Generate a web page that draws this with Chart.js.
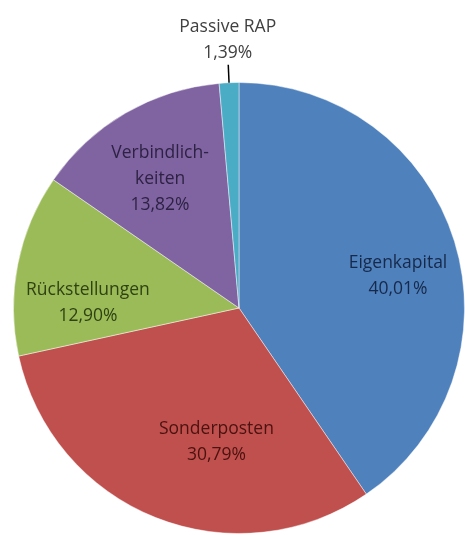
<!DOCTYPE html>
<html>
<head>
<meta charset="utf-8">
<script src="https://cdn.jsdelivr.net/npm/chart.js@4"></script>
<style>
  html, body { margin: 0; padding: 0; background: #fff; }
  #wrap { width: 465px; height: 535px; position: relative; }
</style>
</head>
<body>
<div id="wrap"><canvas id="pie"></canvas></div>
<script>
// Passivseite der Bilanz, Anteile in Prozent
var categories = ["Eigenkapital", "Sonderposten", "Rückstellungen", "Verbindlichkeiten", "Passive RAP"];
var labelLines = [["Eigenkapital"], ["Sonderposten"], ["Rückstellungen"], ["Verbindlich-", "keiten"], ["Passive RAP"]];
var shares = [40.01, 30.79, 12.90, 13.82, 1.39];

var sliceColors = ["#4f81bd", "#c0504d", "#9bbb59", "#8064a2", "#4bacc6"];
var textColors = ["#17294a", "#4a1210", "#2f4212", "#2e2244", "#404040"];
// label centre relative to pie centre, in units of the radius
var labelSpots = [[0.705, -0.14], [-0.10, 0.595], [-0.67, -0.02], [-0.35, -0.57], [-0.05, -1.19]];

function fmt(v) {
    return v.toFixed(2).replace('.', ',') + '%';
}

var pieLabels = {
    id: 'pieLabels',
    afterDatasetsDraw: function(chart) {
        var ctx = chart.ctx;
        var arcs = chart.getDatasetMeta(0).data;
        ctx.save();
        ctx.font = '17.5px "Open Sans", sans-serif';
        ctx.textAlign = 'center';
        ctx.textBaseline = 'middle';
        arcs.forEach(function(arc, i) {
            var r = arc.outerRadius;
            var lines = labelLines[i].concat([fmt(shares[i])]);
            var cx = arc.x + labelSpots[i][0] * r;
            var cy = arc.y + labelSpots[i][1] * r;
            var lh = 26;
            var top = cy - (lines.length - 1) * lh / 2;
            ctx.fillStyle = textColors[i];
            lines.forEach(function(t, k) {
                ctx.fillText(t, cx, top + k * lh);
            });
            // leader line for the small slice outside the pie
            if (labelSpots[i][0] * labelSpots[i][0] + labelSpots[i][1] * labelSpots[i][1] > 1) {
                var mid = (arc.startAngle + arc.endAngle) / 2;
                ctx.strokeStyle = '#000';
                ctx.lineWidth = 1.5;
                ctx.beginPath();
                ctx.moveTo(arc.x + Math.cos(mid) * r, arc.y + Math.sin(mid) * r);
                ctx.lineTo(arc.x + Math.cos(mid) * (r + 18), arc.y + Math.sin(mid) * (r + 18));
                ctx.stroke();
            }
        });
        ctx.restore();
    }
};

new Chart(document.getElementById('pie'), {
    type: 'pie',
    data: {
        labels: categories,
        datasets: [{
            data: shares,
            backgroundColor: sliceColors,
            borderColor: 'rgba(255,255,255,0.45)',
            borderWidth: 1
        }]
    },
    options: {
        responsive: true,
        maintainAspectRatio: false,
        animation: false,
        layout: { padding: { top: 81, left: 13, right: -2, bottom: 0 } },
        plugins: {
            legend: { display: false },
            tooltip: { enabled: false }
        }
    },
    plugins: [pieLabels]
});
</script>
</body>
</html>
